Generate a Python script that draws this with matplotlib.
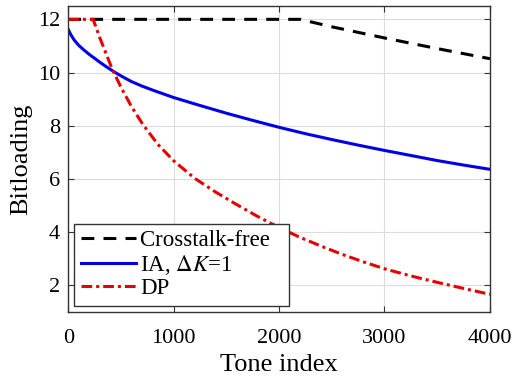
import numpy as np
import matplotlib
matplotlib.use("Agg")
import matplotlib.pyplot as plt

plt.rcParams['font.family'] = ['Liberation Serif', 'DejaVu Serif']
plt.rcParams['mathtext.fontset'] = 'stix'

# values
free_x = [0, 2200, 2500, 3000, 3500, 4000]
free_y = [12, 12, 11.72, 11.3, 10.9, 10.52]

ia_x = [0, 25, 57, 100, 151, 200, 245, 302, 368, 450, 520, 600, 700, 800, 900, 1000,
        1250, 1500, 1750, 2000, 2250, 2500, 2750, 3000, 3250, 3500, 3750, 4000]
ia_y = [11.62, 11.42, 11.22, 11.02, 10.84, 10.68, 10.55, 10.38, 10.2, 9.99, 9.83, 9.66, 9.49, 9.34, 9.2, 9.06,
        8.76, 8.47, 8.2, 7.94, 7.7, 7.48, 7.27, 7.07, 6.88, 6.69, 6.52, 6.36]

dp_x = [0, 236, 300, 350, 415, 500, 600, 708, 850, 1000, 1200, 1400, 1600, 1800, 2000,
        2200, 2400, 2600, 2800, 3000, 3250, 3500, 3750, 4000]
dp_y = [12, 12, 11.3, 10.8, 10.15, 9.45, 8.72, 8.05, 7.3, 6.68, 6.02, 5.5, 5.03, 4.58, 4.17,
        3.8, 3.47, 3.16, 2.88, 2.62, 2.35, 2.11, 1.88, 1.66]

fig = plt.figure(figsize=(5.13, 3.78), dpi=100)
ax = fig.add_axes([0.133, 0.175, 0.822, 0.809])

ax.plot(free_x, free_y, color='black', lw=2.2, dashes=(4.2, 3), label='Crosstalk-free\u2002')
ax.plot(ia_x, ia_y, color='#0000e6', lw=2.2, label=r'IA, $\Delta K$=1')
ax.plot(dp_x, dp_y, color='#e60000', lw=2.2, dashes=(3.5, 1.3, 1, 1.3), label='DP')

ax.set_xlim(0, 4000)
ax.set_ylim(1, 12.5)
ax.set_xticks([0, 1000, 2000, 3000, 4000])
ax.set_yticks([2, 4, 6, 8, 10, 12])
ax.grid(True, color='#dcdcdc', lw=0.8)
ax.set_axisbelow(True)
ax.tick_params(direction='in', top=True, right=True, labelsize=16, length=4,
               color='#333333')
ax.tick_params(axis='x', pad=12)
ax.tick_params(axis='y', pad=6)
for s in ax.spines.values():
    s.set_color('#333333')
    s.set_linewidth(1.0)

ax.set_xlabel('Tone index', fontsize=19, labelpad=5)
ax.set_ylabel('Bitloading', fontsize=19, labelpad=4)

leg = ax.legend(loc='lower left', fontsize=16.5, handlelength=2.4, handletextpad=0.2,
                borderpad=0.3, labelspacing=0.06, borderaxespad=0.25, fancybox=False,
                framealpha=1, edgecolor='#333333')
leg.get_frame().set_linewidth(1.0)

fig.savefig('out.png', dpi=100)
